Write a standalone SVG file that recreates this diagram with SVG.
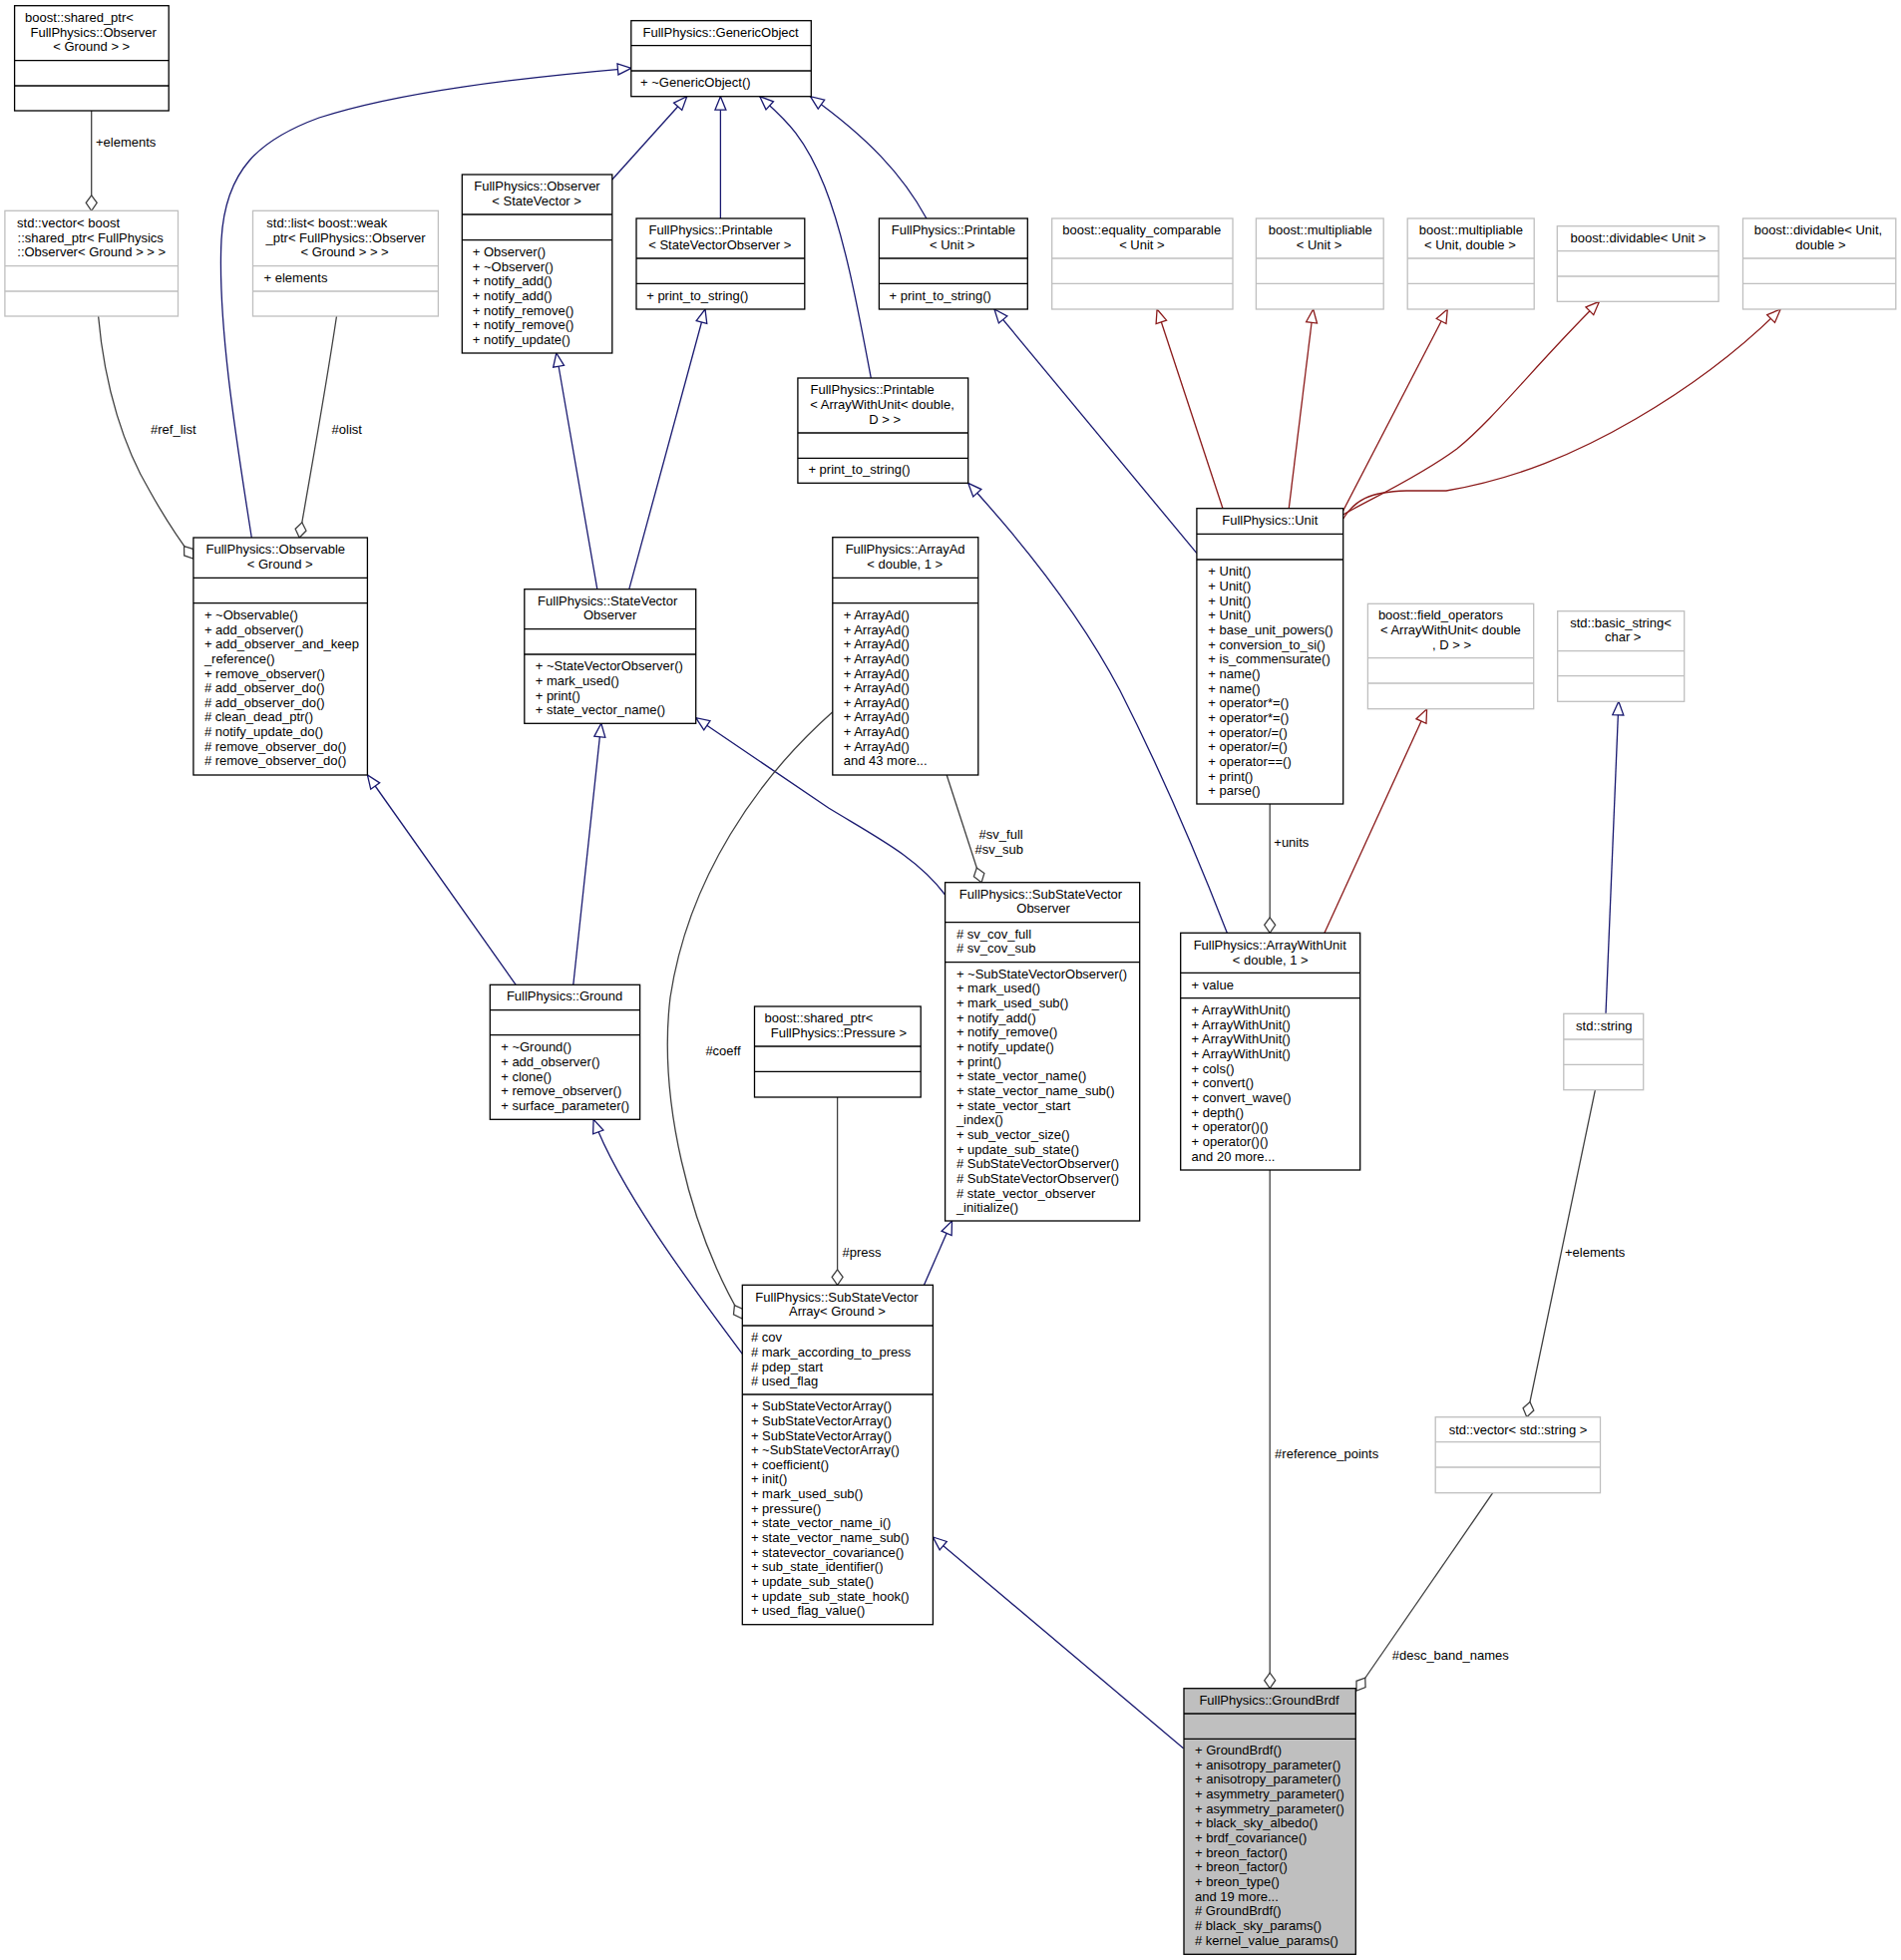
<svg xmlns="http://www.w3.org/2000/svg" width="1906" height="1965" viewBox="0 0 1906 1965">
<style>
text{font-family:"Liberation Sans",Arial,sans-serif;font-size:13px;fill:#000}
.c{text-anchor:middle}
.b{fill:#fff;stroke:#000;stroke-width:1.3}
.g{fill:#fff;stroke:#bfbfbf;stroke-width:1.3}
.s{fill:#bfbfbf;stroke:#000;stroke-width:1.3}
.d{stroke:#000;stroke-width:1.3}
.dg{stroke:#bfbfbf;stroke-width:1.3}
.inh{fill:none;stroke:#191970;stroke-width:1.3;marker-end:url(#ab)}
.tpl{fill:none;stroke:#8b1a1a;stroke-width:1.3;marker-end:url(#ar)}
.agg{fill:none;stroke:#404040;stroke-width:1.3;marker-end:url(#ad)}
</style>
<defs>
<marker id="ab" markerUnits="userSpaceOnUse" markerWidth="16" markerHeight="14" refX="14" refY="6" orient="auto" overflow="visible"><path d="M0.5,0.5 L14,6 L0.5,11.5 Z" fill="#fff" stroke="#191970" stroke-width="1.3"/></marker>
<marker id="ar" markerUnits="userSpaceOnUse" markerWidth="16" markerHeight="14" refX="14" refY="6" orient="auto" overflow="visible"><path d="M0.5,0.5 L14,6 L0.5,11.5 Z" fill="#fff" stroke="#8b1a1a" stroke-width="1.3"/></marker>
<marker id="ad" markerUnits="userSpaceOnUse" markerWidth="18" markerHeight="14" refX="16" refY="6" orient="auto" overflow="visible"><path d="M0.5,6 L8,0.5 L16,6 L8,11.5 Z" fill="#fff" stroke="#404040" stroke-width="1.3"/></marker>
</defs>
<rect width="1906" height="1965" fill="#fff"/>

<g id="edges">
<path class="inh" d="M613.8,180 L688.7,96.7"/>
<path class="inh" d="M722.4,219 L722.4,96.7"/>
<path class="inh" d="M873.3,379 C862,320 848,240 826.7,186.7 S785,118 761.8,96.7"/>
<path class="inh" d="M928.9,219 C905,175 870,138 812.5,96.7"/>
<path class="inh" d="M252.3,539 C235,430 218,320 222,240 C226,170 260,140 320,118 C400,92 520,78 632.9,68.3"/>
<path class="inh" d="M1199.9,554.7 L997,310"/>
<path class="tpl" d="M1226,509.7 L1160.1,310"/>
<path class="tpl" d="M1292.3,509.7 L1316.7,310"/>
<path class="tpl" d="M1346.7,512 L1451.3,310"/>
<path class="tpl" d="M1346.7,516 C1370,502 1420,480 1460.7,450 C1500,418 1540,365 1603.5,302.3"/>
<path class="tpl" d="M1346.7,520 C1358,502 1372,493 1410,492 L1450,492 C1520,480 1580,455 1640,420 C1700,385 1745,350 1785.2,310"/>
<path class="inh" d="M1230.3,935.3 C1205,870 1165,775 1122.8,692 C1090,630 1040,560 970.7,484.3"/>
<path class="tpl" d="M1328,935.3 L1430.6,710.7"/>
<path class="inh" d="M947.6,897 C920,860 880,840 830.7,810 L697.7,719.7"/>
<path class="inh" d="M517.2,987.3 L368.4,777"/>
<path class="inh" d="M574.8,987.3 L602.8,725.3"/>
<path class="inh" d="M598.8,590.7 L557.8,354"/>
<path class="inh" d="M630.8,590.7 L707,310"/>
<path class="inh" d="M744.3,1357.3 C690,1285 620,1190 595.1,1122.3"/>
<path class="inh" d="M926.5,1288.3 L954.5,1224"/>
<path class="inh" d="M1186.5,1752.7 L935.4,1541"/>
<path class="inh" d="M1610,1016.3 L1622.9,703.3"/>
<path class="agg" d="M91.7,111 L91.7,211.3"/>
<path class="agg" d="M98.6,317 C105,390 125,450 150,492 C160,510 175,535 193.9,560"/>
<path class="agg" d="M337.5,317 C325,400 312,470 300.2,539"/>
<path class="agg" d="M949.2,777 L984.1,884.7"/>
<path class="agg" d="M834.8,713.7 C760,780 690,880 672,1000 C660,1100 690,1230 744.3,1322"/>
<path class="agg" d="M839.6,1100 L839.6,1288.3"/>
<path class="agg" d="M1273.2,806 L1273.2,935.3"/>
<path class="agg" d="M1273.2,1173 L1273.2,1692.7"/>
<path class="agg" d="M1599.4,1092.7 L1530.8,1420.7"/>
<path class="agg" d="M1496.7,1496.7 L1360,1695"/>
<text x="96" y="147.2">+elements</text>
<text x="151" y="435.2">#ref_list</text>
<text x="332.6" y="435.2">#olist</text>
<text x="981.6" y="840.8">#sv_full</text>
<text x="977.6" y="855.8">#sv_sub</text>
<text x="707.4" y="1057.8">#coeff</text>
<text x="844.5" y="1260.2">#press</text>
<text x="1277.3" y="849.2">+units</text>
<text x="1278.1" y="1461.8">#reference_points</text>
<text x="1569" y="1260.2">+elements</text>
<text x="1395.7" y="1663.8">#desc_band_names</text>
</g>

<g id="n_sp_observer_ground">
<rect class="b" x="14.6" y="5.7" width="154.6" height="105.3"/>
<line class="d" x1="14.6" y1="60.7" x2="169.2" y2="60.7"/><line class="d" x1="14.6" y1="86" x2="169.2" y2="86"/>
<text class="c" x="79.5" y="21.8">boost::shared_ptr&lt;</text>
<text class="c" x="93.7" y="36.8">FullPhysics::Observer</text>
<text class="c" x="91.7" y="51.2">&lt; Ground &gt; &gt;</text>
</g>

<g id="n_vector_sp_observer">
<rect class="g" x="4.9" y="211.3" width="173.6" height="105.7"/>
<line class="dg" x1="4.9" y1="266.7" x2="178.5" y2="266.7"/><line class="dg" x1="4.9" y1="292" x2="178.5" y2="292"/>
<text class="c" x="68.6" y="227.8">std::vector&lt; boost</text>
<text class="c" x="90.7" y="242.8">::shared_ptr&lt; FullPhysics</text>
<text class="c" x="91.7" y="256.8">::Observer&lt; Ground &gt; &gt; &gt;</text>
</g>

<g id="n_list_weak_ptr">
<rect class="g" x="253.5" y="211.3" width="185.9" height="105.7"/>
<line class="dg" x1="253.5" y1="266.7" x2="439.4" y2="266.7"/><line class="dg" x1="253.5" y1="292" x2="439.4" y2="292"/>
<text class="c" x="327.8" y="227.8">std::list&lt; boost::weak</text>
<text class="c" x="346.5" y="242.8">_ptr&lt; FullPhysics::Observer</text>
<text class="c" x="345.6" y="256.8">&lt; Ground &gt; &gt; &gt;</text>
<text x="264.5" y="283.2">+ elements</text>
</g>

<g id="n_generic_object">
<rect class="b" x="632.8" y="20.7" width="180.5" height="76"/>
<line class="d" x1="632.8" y1="45.7" x2="813.3" y2="45.7"/><line class="d" x1="632.8" y1="71" x2="813.3" y2="71"/>
<text class="c" x="722.6" y="36.8">FullPhysics::GenericObject</text>
<text x="642" y="86.8">+ ~GenericObject()</text>
</g>

<g id="n_observer_statevector">
<rect class="b" x="463.3" y="175" width="150.5" height="179"/>
<line class="d" x1="463.3" y1="215" x2="613.8" y2="215"/><line class="d" x1="463.3" y1="240.7" x2="613.8" y2="240.7"/>
<text class="c" x="538.5" y="191.2">FullPhysics::Observer</text>
<text class="c" x="538.1" y="205.8">&lt; StateVector &gt;</text>
<text x="473.8" y="256.8">+ Observer()</text>
<text x="473.8" y="271.5">+ ~Observer()</text>
<text x="473.8" y="286.2">+ notify_add()</text>
<text x="473.8" y="300.9">+ notify_add()</text>
<text x="473.8" y="315.6">+ notify_remove()</text>
<text x="473.8" y="330.3">+ notify_remove()</text>
<text x="473.8" y="345">+ notify_update()</text>
</g>

<g id="n_printable_svo">
<rect class="b" x="638" y="219" width="168.8" height="91"/>
<line class="d" x1="638" y1="259" x2="806.8" y2="259"/><line class="d" x1="638" y1="284.3" x2="806.8" y2="284.3"/>
<text class="c" x="712.7" y="234.8">FullPhysics::Printable</text>
<text class="c" x="721.8" y="250.2">&lt; StateVectorObserver &gt;</text>
<text x="648.2" y="301.2">+ print_to_string()</text>
</g>

<g id="n_printable_unit">
<rect class="b" x="881.4" y="219" width="148.9" height="91"/>
<line class="d" x1="881.4" y1="259" x2="1030.3" y2="259"/><line class="d" x1="881.4" y1="284.3" x2="1030.3" y2="284.3"/>
<text class="c" x="955.9" y="234.8">FullPhysics::Printable</text>
<text class="c" x="954.7" y="250.2">&lt; Unit &gt;</text>
<text x="891.6" y="301.2">+ print_to_string()</text>
</g>

<g id="n_equality_comparable">
<rect class="g" x="1054.7" y="219" width="181.3" height="91"/>
<line class="dg" x1="1054.7" y1="259" x2="1236" y2="259"/><line class="dg" x1="1054.7" y1="284.3" x2="1236" y2="284.3"/>
<text class="c" x="1144.7" y="234.8">boost::equality_comparable</text>
<text class="c" x="1144.9" y="250.2">&lt; Unit &gt;</text>
</g>

<g id="n_multipliable_unit">
<rect class="g" x="1259.4" y="219" width="127.8" height="91"/>
<line class="dg" x1="1259.4" y1="259" x2="1387.2" y2="259"/><line class="dg" x1="1259.4" y1="284.3" x2="1387.2" y2="284.3"/>
<text class="c" x="1323.8" y="234.8">boost::multipliable</text>
<text class="c" x="1322.5" y="250.2">&lt; Unit &gt;</text>
</g>

<g id="n_multipliable_unit_double">
<rect class="g" x="1411.2" y="219" width="127" height="91"/>
<line class="dg" x1="1411.2" y1="259" x2="1538.2" y2="259"/><line class="dg" x1="1411.2" y1="284.3" x2="1538.2" y2="284.3"/>
<text class="c" x="1474.9" y="234.8">boost::multipliable</text>
<text class="c" x="1473.9" y="250.2">&lt; Unit, double &gt;</text>
</g>

<g id="n_dividable_unit">
<rect class="g" x="1561.3" y="226.7" width="161.8" height="75.6"/>
<line class="dg" x1="1561.3" y1="251.7" x2="1723.1" y2="251.7"/><line class="dg" x1="1561.3" y1="277" x2="1723.1" y2="277"/>
<text class="c" x="1642.4" y="243.2">boost::dividable&lt; Unit &gt;</text>
</g>

<g id="n_dividable_unit_double">
<rect class="g" x="1747.5" y="219" width="153.3" height="91"/>
<line class="dg" x1="1747.5" y1="259" x2="1900.8" y2="259"/><line class="dg" x1="1747.5" y1="284.3" x2="1900.8" y2="284.3"/>
<text class="c" x="1823" y="234.8">boost::dividable&lt; Unit,</text>
<text class="c" x="1825.4" y="250.2">double &gt;</text>
</g>

<g id="n_printable_awu">
<rect class="b" x="799.9" y="379" width="170.8" height="105.3"/>
<line class="d" x1="799.9" y1="434" x2="970.7" y2="434"/><line class="d" x1="799.9" y1="459.3" x2="970.7" y2="459.3"/>
<text class="c" x="874.7" y="394.8">FullPhysics::Printable</text>
<text class="c" x="884.5" y="409.8">&lt; ArrayWithUnit&lt; double,</text>
<text class="c" x="887.1" y="424.8">D &gt; &gt;</text>
<text x="810.4" y="475.2">+ print_to_string()</text>
</g>

<g id="n_observable_ground">
<rect class="b" x="193.9" y="539" width="174.5" height="238"/>
<line class="d" x1="193.9" y1="579.3" x2="368.4" y2="579.3"/><line class="d" x1="193.9" y1="604.7" x2="368.4" y2="604.7"/>
<text class="c" x="276.3" y="555.2">FullPhysics::Observable</text>
<text class="c" x="280.7" y="569.8">&lt; Ground &gt;</text>
<text x="204.9" y="621.2">+ ~Observable()</text>
<text x="204.9" y="635.8">+ add_observer()</text>
<text x="204.9" y="650.4">+ add_observer_and_keep</text>
<text x="204.9" y="665">_reference()</text>
<text x="204.9" y="679.6">+ remove_observer()</text>
<text x="204.9" y="694.2"># add_observer_do()</text>
<text x="204.9" y="708.8"># add_observer_do()</text>
<text x="204.9" y="723.4"># clean_dead_ptr()</text>
<text x="204.9" y="738"># notify_update_do()</text>
<text x="204.9" y="752.6"># remove_observer_do()</text>
<text x="204.9" y="767.2"># remove_observer_do()</text>
</g>

<g id="n_statevector_observer">
<rect class="b" x="525.8" y="590.7" width="171.9" height="134.6"/>
<line class="d" x1="525.8" y1="630.7" x2="697.7" y2="630.7"/><line class="d" x1="525.8" y1="656" x2="697.7" y2="656"/>
<text class="c" x="609.2" y="606.8">FullPhysics::StateVector</text>
<text class="c" x="611.7" y="620.8">Observer</text>
<text x="536.7" y="672.2">+ ~StateVectorObserver()</text>
<text x="536.7" y="687">+ mark_used()</text>
<text x="536.7" y="701.6">+ print()</text>
<text x="536.7" y="716.2">+ state_vector_name()</text>
</g>

<g id="n_arrayad">
<rect class="b" x="834.8" y="538.7" width="146" height="238.3"/>
<line class="d" x1="834.8" y1="579.3" x2="980.8" y2="579.3"/><line class="d" x1="834.8" y1="604.7" x2="980.8" y2="604.7"/>
<text class="c" x="907.6" y="555.2">FullPhysics::ArrayAd</text>
<text class="c" x="907.2" y="569.8">&lt; double, 1 &gt;</text>
<text x="845.7" y="621.2">+ ArrayAd()</text>
<text x="845.7" y="635.8">+ ArrayAd()</text>
<text x="845.7" y="650.4">+ ArrayAd()</text>
<text x="845.7" y="665">+ ArrayAd()</text>
<text x="845.7" y="679.6">+ ArrayAd()</text>
<text x="845.7" y="694.2">+ ArrayAd()</text>
<text x="845.7" y="708.8">+ ArrayAd()</text>
<text x="845.7" y="723.4">+ ArrayAd()</text>
<text x="845.7" y="738">+ ArrayAd()</text>
<text x="845.7" y="752.6">+ ArrayAd()</text>
<text x="845.7" y="767.2">and 43 more...</text>
</g>

<g id="n_unit">
<rect class="b" x="1199.9" y="509.7" width="146.8" height="296.3"/>
<line class="d" x1="1199.9" y1="535.3" x2="1346.7" y2="535.3"/><line class="d" x1="1199.9" y1="561" x2="1346.7" y2="561"/>
<text class="c" x="1273.3" y="525.8">FullPhysics::Unit</text>
<text x="1211.3" y="577.2">+ Unit()</text>
<text x="1211.3" y="591.9">+ Unit()</text>
<text x="1211.3" y="606.5">+ Unit()</text>
<text x="1211.3" y="621.2">+ Unit()</text>
<text x="1211.3" y="635.9">+ base_unit_powers()</text>
<text x="1211.3" y="650.5">+ conversion_to_si()</text>
<text x="1211.3" y="665.2">+ is_commensurate()</text>
<text x="1211.3" y="679.9">+ name()</text>
<text x="1211.3" y="694.6">+ name()</text>
<text x="1211.3" y="709.2">+ operator*=()</text>
<text x="1211.3" y="723.9">+ operator*=()</text>
<text x="1211.3" y="738.6">+ operator/=()</text>
<text x="1211.3" y="753.2">+ operator/=()</text>
<text x="1211.3" y="767.9">+ operator==()</text>
<text x="1211.3" y="782.6">+ print()</text>
<text x="1211.3" y="797.2">+ parse()</text>
</g>

<g id="n_field_operators">
<rect class="g" x="1371.4" y="605.3" width="166.3" height="105.4"/>
<line class="dg" x1="1371.4" y1="659.7" x2="1537.7" y2="659.7"/><line class="dg" x1="1371.4" y1="685" x2="1537.7" y2="685"/>
<text class="c" x="1444.4" y="621.2">boost::field_operators</text>
<text class="c" x="1454.4" y="636.2">&lt; ArrayWithUnit&lt; double</text>
<text class="c" x="1455.6" y="650.8">, D &gt; &gt;</text>
</g>

<g id="n_basic_string">
<rect class="g" x="1561.7" y="612.7" width="127" height="90.6"/>
<line class="dg" x1="1561.7" y1="652.7" x2="1688.7" y2="652.7"/><line class="dg" x1="1561.7" y1="677.7" x2="1688.7" y2="677.7"/>
<text class="c" x="1625" y="629.2">std::basic_string&lt;</text>
<text class="c" x="1627.2" y="643.2">char &gt;</text>
</g>

<g id="n_ground">
<rect class="b" x="491.3" y="987.3" width="150.3" height="135"/>
<line class="d" x1="491.3" y1="1012.7" x2="641.6" y2="1012.7"/><line class="d" x1="491.3" y1="1037.7" x2="641.6" y2="1037.7"/>
<text class="c" x="566.1" y="1002.8">FullPhysics::Ground</text>
<text x="502.2" y="1054.2">+ ~Ground()</text>
<text x="502.2" y="1069">+ add_observer()</text>
<text x="502.2" y="1083.6">+ clone()</text>
<text x="502.2" y="1098.2">+ remove_observer()</text>
<text x="502.2" y="1113">+ surface_parameter()</text>
</g>

<g id="n_substatevector_observer">
<rect class="b" x="947.6" y="884.7" width="195.1" height="339.3"/>
<line class="d" x1="947.6" y1="924.7" x2="1142.7" y2="924.7"/><line class="d" x1="947.6" y1="964.7" x2="1142.7" y2="964.7"/>
<text class="c" x="1043.5" y="900.8">FullPhysics::SubStateVector</text>
<text class="c" x="1046" y="914.8">Observer</text>
<text x="958.9" y="940.8"># sv_cov_full</text>
<text x="958.9" y="955.2"># sv_cov_sub</text>
<text x="958.9" y="980.5">+ ~SubStateVectorObserver()</text>
<text x="958.9" y="995.2">+ mark_used()</text>
<text x="958.9" y="1009.8">+ mark_used_sub()</text>
<text x="958.9" y="1024.5">+ notify_add()</text>
<text x="958.9" y="1039.2">+ notify_remove()</text>
<text x="958.9" y="1053.8">+ notify_update()</text>
<text x="958.9" y="1068.5">+ print()</text>
<text x="958.9" y="1083.2">+ state_vector_name()</text>
<text x="958.9" y="1097.9">+ state_vector_name_sub()</text>
<text x="958.9" y="1112.5">+ state_vector_start</text>
<text x="958.9" y="1127.2">_index()</text>
<text x="958.9" y="1141.9">+ sub_vector_size()</text>
<text x="958.9" y="1156.5">+ update_sub_state()</text>
<text x="958.9" y="1171.2"># SubStateVectorObserver()</text>
<text x="958.9" y="1185.9"># SubStateVectorObserver()</text>
<text x="958.9" y="1200.5"># state_vector_observer</text>
<text x="958.9" y="1215.2">_initialize()</text>
</g>

<g id="n_array_with_unit">
<rect class="b" x="1183.7" y="935.3" width="180" height="237.7"/>
<line class="d" x1="1183.7" y1="975.3" x2="1363.7" y2="975.3"/><line class="d" x1="1183.7" y1="1000.7" x2="1363.7" y2="1000.7"/>
<text class="c" x="1273.2" y="951.5">FullPhysics::ArrayWithUnit</text>
<text class="c" x="1273.7" y="966.5">&lt; double, 1 &gt;</text>
<text x="1194.6" y="991.8">+ value</text>
<text x="1194.6" y="1016.8">+ ArrayWithUnit()</text>
<text x="1194.6" y="1031.5">+ ArrayWithUnit()</text>
<text x="1194.6" y="1046.1">+ ArrayWithUnit()</text>
<text x="1194.6" y="1060.8">+ ArrayWithUnit()</text>
<text x="1194.6" y="1075.5">+ cols()</text>
<text x="1194.6" y="1090.1">+ convert()</text>
<text x="1194.6" y="1104.8">+ convert_wave()</text>
<text x="1194.6" y="1119.5">+ depth()</text>
<text x="1194.6" y="1134.2">+ operator()()</text>
<text x="1194.6" y="1148.8">+ operator()()</text>
<text x="1194.6" y="1163.5">and 20 more...</text>
</g>

<g id="n_std_string">
<rect class="g" x="1567.8" y="1016.3" width="79.9" height="76.4"/>
<line class="dg" x1="1567.8" y1="1042" x2="1647.7" y2="1042"/><line class="dg" x1="1567.8" y1="1067.3" x2="1647.7" y2="1067.3"/>
<text class="c" x="1608.3" y="1032.8">std::string</text>
</g>

<g id="n_sp_pressure">
<rect class="b" x="756.5" y="1009" width="166.7" height="91"/>
<line class="d" x1="756.5" y1="1049" x2="923.2" y2="1049"/><line class="d" x1="756.5" y1="1074.3" x2="923.2" y2="1074.3"/>
<text class="c" x="821" y="1025.2">boost::shared_ptr&lt;</text>
<text class="c" x="840.9" y="1040.2">FullPhysics::Pressure &gt;</text>
</g>

<g id="n_substatevector_array">
<rect class="b" x="744.3" y="1288.3" width="191.1" height="340.4"/>
<line class="d" x1="744.3" y1="1329" x2="935.4" y2="1329"/><line class="d" x1="744.3" y1="1398" x2="935.4" y2="1398"/>
<text class="c" x="839" y="1305.2">FullPhysics::SubStateVector</text>
<text class="c" x="839.4" y="1319.2">Array&lt; Ground &gt;</text>
<text x="752.9" y="1345.2"># cov</text>
<text x="752.9" y="1359.9"># mark_according_to_press</text>
<text x="752.9" y="1374.5"># pdep_start</text>
<text x="752.9" y="1389.2"># used_flag</text>
<text x="752.9" y="1414.2">+ SubStateVectorArray()</text>
<text x="752.9" y="1428.8">+ SubStateVectorArray()</text>
<text x="752.9" y="1443.5">+ SubStateVectorArray()</text>
<text x="752.9" y="1458.1">+ ~SubStateVectorArray()</text>
<text x="752.9" y="1472.8">+ coefficient()</text>
<text x="752.9" y="1487.4">+ init()</text>
<text x="752.9" y="1502">+ mark_used_sub()</text>
<text x="752.9" y="1516.7">+ pressure()</text>
<text x="752.9" y="1531.3">+ state_vector_name_i()</text>
<text x="752.9" y="1546">+ state_vector_name_sub()</text>
<text x="752.9" y="1560.6">+ statevector_covariance()</text>
<text x="752.9" y="1575.3">+ sub_state_identifier()</text>
<text x="752.9" y="1589.9">+ update_sub_state()</text>
<text x="752.9" y="1604.5">+ update_sub_state_hook()</text>
<text x="752.9" y="1619.2">+ used_flag_value()</text>
</g>

<g id="n_vector_string">
<rect class="g" x="1439.2" y="1420.7" width="165.3" height="76"/>
<line class="dg" x1="1439.2" y1="1445.7" x2="1604.5" y2="1445.7"/><line class="dg" x1="1439.2" y1="1471" x2="1604.5" y2="1471"/>
<text class="c" x="1522" y="1437.5">std::vector&lt; std::string &gt;</text>
</g>

<g id="n_ground_brdf">
<rect class="s" x="1187" y="1692.7" width="172.3" height="266.6"/>
<line class="d" x1="1187" y1="1718" x2="1359.3" y2="1718"/><line class="d" x1="1187" y1="1743.3" x2="1359.3" y2="1743.3"/>
<text class="c" x="1272.5" y="1709.2">FullPhysics::GroundBrdf</text>
<text x="1198" y="1758.8">+ GroundBrdf()</text>
<text x="1198" y="1773.5">+ anisotropy_parameter()</text>
<text x="1198" y="1788.2">+ anisotropy_parameter()</text>
<text x="1198" y="1802.9">+ asymmetry_parameter()</text>
<text x="1198" y="1817.6">+ asymmetry_parameter()</text>
<text x="1198" y="1832.3">+ black_sky_albedo()</text>
<text x="1198" y="1847">+ brdf_covariance()</text>
<text x="1198" y="1861.6">+ breon_factor()</text>
<text x="1198" y="1876.3">+ breon_factor()</text>
<text x="1198" y="1891">+ breon_type()</text>
<text x="1198" y="1905.7">and 19 more...</text>
<text x="1198" y="1920.4"># GroundBrdf()</text>
<text x="1198" y="1935.1"># black_sky_params()</text>
<text x="1198" y="1949.8"># kernel_value_params()</text>
</g>
</svg>
